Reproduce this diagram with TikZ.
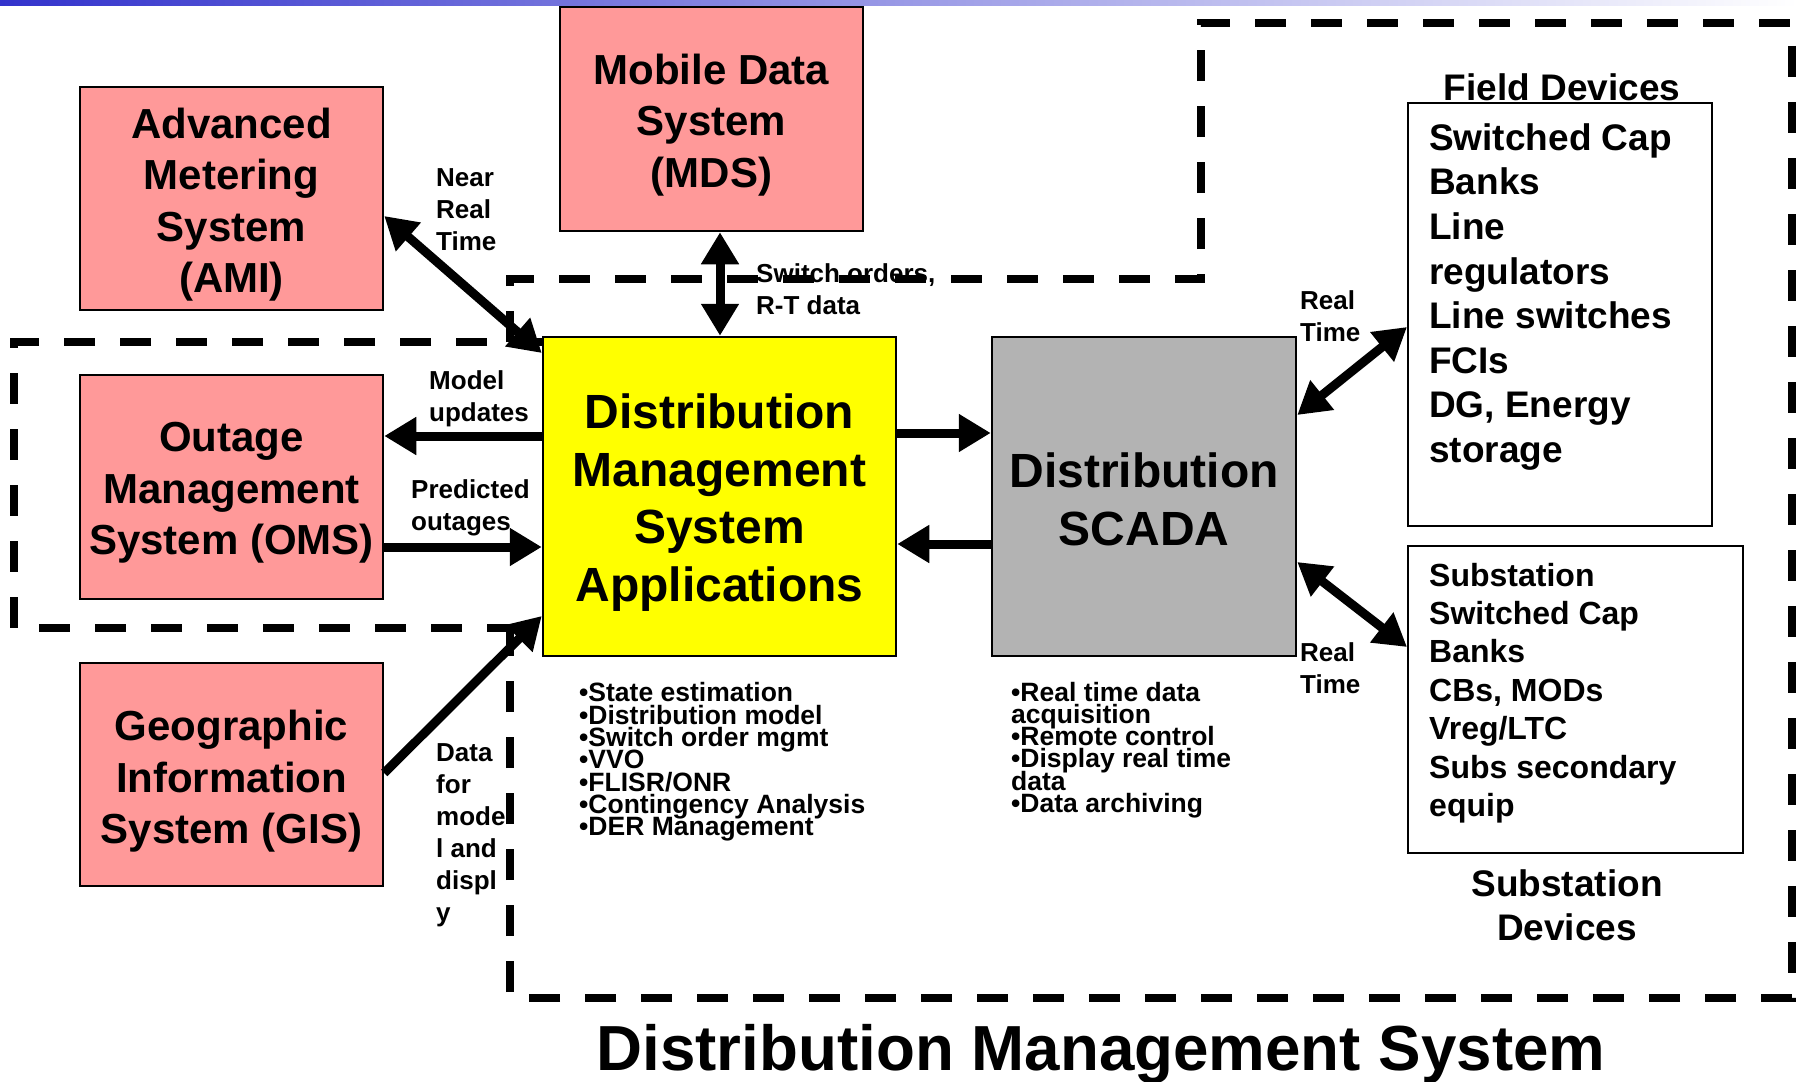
\documentclass[tikz,border=0pt]{standalone}
\usepackage{fontspec}
\setmainfont{Liberation Sans}
\usetikzlibrary{arrows.meta,calc}
\definecolor{pinkc}{HTML}{FF9999}
\definecolor{grayc}{HTML}{B3B3B3}
\definecolor{yelc}{HTML}{FFFF00}
\definecolor{barblue}{HTML}{3333CC}
\lineskiplimit=-100pt
\lineskip=0pt
\begin{document}
\begin{tikzpicture}[x=1pt,y=-1pt,
  box/.style={draw=black, line width=2.5pt, inner sep=0pt},
  boxtxt/.style={inner sep=0pt, align=center,
    font=\bfseries\fontsize{42}{51.5}\selectfont},
  bigtxt/.style={inner sep=0pt, align=center,
    font=\bfseries\fontsize{48}{57.7}\selectfont},
  listbox/.style={draw=black, line width=2pt, inner sep=0pt, fill=white},
  lbl/.style={inner sep=0pt, anchor=west, align=left,
    font=\bfseries\fontsize{26}{32}\selectfont},
  bul/.style={inner sep=0pt, anchor=west, align=left,
    font=\bfseries\fontsize{26.5}{22.3}\selectfont},
  devtxt/.style={inner sep=0pt, anchor=west, align=left,
    font=\bfseries\fontsize{37}{44.6}\selectfont},
  subtxt/.style={inner sep=0pt, anchor=west, align=left,
    font=\bfseries\fontsize{32}{38.4}\selectfont},
  devtitle/.style={inner sep=0pt, align=center,
    font=\bfseries\fontsize{37}{44}\selectfont},
  bigarrow/.style={line width=9pt, -{Triangle[length=32pt,width=36pt]}},
  bigboth/.style={line width=9pt, {Triangle[length=32pt,width=36pt]}-{Triangle[length=32pt,width=36pt]}},
  dmsbound/.style={line width=7.5pt, dash pattern=on 31pt off 25pt, line join=miter},
]
\useasboundingbox (0,0) rectangle (1798,1081);
\fill[white] (0,0) rectangle (1798,1081);
\shade[left color=barblue, right color=white] (0,0) rectangle (1798,6);

% dashed boundaries
\draw[dmsbound] (510,342) -- (510,279) -- (1201,279) -- (1201,23) -- (1792,23)
  -- (1792,998) -- (510,998) -- (510,628);
\draw[dmsbound] (543,342) -- (14,342) -- (14,628) -- (543,628);

% boxes
\node[box, fill=pinkc, minimum width=303pt, minimum height=223pt] (ami) at (231.5,198.5) {};
\node[box, fill=pinkc, minimum width=303pt, minimum height=224pt] (mds) at (711.5,119) {};
\node[box, fill=pinkc, minimum width=303pt, minimum height=224pt] (oms) at (231.5,487) {};
\node[box, fill=pinkc, minimum width=303pt, minimum height=223pt] (gis) at (231.5,774.5) {};
\node[box, fill=yelc, minimum width=353pt, minimum height=319pt] (dms) at (719.5,496.5) {};
\node[box, fill=grayc, minimum width=304pt, minimum height=319pt] (scada) at (1144,496.5) {};
\node[listbox, minimum width=304pt, minimum height=423pt] (field) at (1560,314.5) {};
\node[listbox, minimum width=335pt, minimum height=307pt] (subst) at (1575.5,699.5) {};

% box texts
\node[boxtxt] (amitxt) at ($(ami.center)+(0,6)$) {Advanced\\Metering\\System\\(AMI)};
\node[boxtxt] (mdstxt) at ($(mds.center)+(0,6)$) {Mobile Data\\System\\(MDS)};
\node[boxtxt] (omstxt) at ($(oms.center)+(0,6)$) {Outage\\Management\\System (OMS)};
\node[boxtxt] (gistxt) at ($(gis.center)+(0,7)$) {Geographic\\Information\\System (GIS)};
\node[bigtxt] (dmstxt) at ($(dms.center)+(0,6)$) {Distribution\\Management\\System\\Applications};
\node[bigtxt] (scadatxt) at ($(scada.center)+(0,2.5)$) {Distribution\\SCADA};

% box contents and titles
\node[devtitle] (fieldtitle) at (1562,87) {Field Devices};
\node[devtxt] (fieldtxt) at (1429,297) {Switched Cap\\Banks\\Line\\regulators\\Line switches\\FCIs\\DG, Energy\\storage};
\node[subtxt] (substtxt) at (1429,693) {Substation\\Switched Cap\\Banks\\CBs, MODs\\Vreg/LTC\\Subs secondary\\equip};
\node[devtitle] (substtitle) at (1567,905) {Substation\\Devices};

% arrows
\draw[bigboth] (ami.east |- 0,216) -- (dms.west |- 0,353);
\draw[bigboth] (720,0 |- mds.south) -- (720,0 |- dms.north);
\draw[bigarrow] (dms.east |- 0,433) -- (scada.west |- 0,433);
\draw[bigarrow] (scada.west |- 0,544) -- (dms.east |- 0,544);
\draw[bigarrow] (dms.west |- 0,436) -- (oms.east |- 0,436);
\draw[bigarrow] (oms.east |- 0,547) -- (dms.west |- 0,547);
\draw[bigarrow] (gis.east |- 0,773) -- (dms.west |- 0,616);
\draw[bigboth] (scada.east |- 0,415) -- (field.west |- 0,327);
\draw[bigboth] (scada.east |- 0,562) -- (subst.west |- 0,647);

% labels
\node[lbl] (near) at (436,210) {Near\\Real\\Time};
\node[lbl] (switch) at (756,289) {Switch orders,\\R-T data};
\node[lbl] (model) at (429,399) {Model\\updates};
\node[lbl] (pred) at (411,508) {Predicted\\outages};
\node[lbl] (datafor) at (436,835) {Data\\for\\mode\\l and\\displ\\y};
\node[lbl] (rt1) at (1300,316) {Real\\Time};
\node[lbl] (rt2) at (1300,668) {Real\\Time};

% bullet lists
\node[bul] (dmslist) at (579,762) {•State estimation\\•Distribution model\\•Switch order mgmt\\•VVO\\•FLISR/ONR\\•Contingency Analysis\\•DER Management};
\node[bul] (scadalist) at (1011,750) {•Real time data\\acquisition\\•Remote control\\•Display real time\\data\\•Data archiving};

% title
\node[inner sep=0pt, anchor=base, font=\bfseries\fontsize{63.7}{70}\selectfont] (title) at (1101,1070)
  {Distribution Management System};
\end{tikzpicture}
\end{document}
